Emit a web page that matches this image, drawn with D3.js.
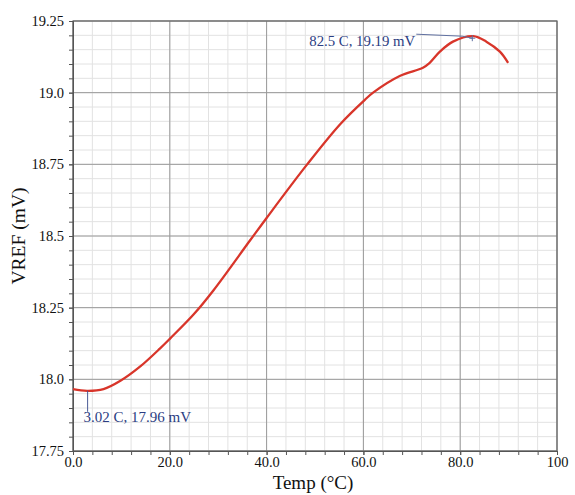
<!DOCTYPE html>
<html>
<head>
<meta charset="utf-8">
<script src="https://cdn.jsdelivr.net/npm/d3@7"></script>
<style>
  body { margin: 0; background: #fff; }
  text { font-family: "Liberation Serif", "DejaVu Serif", serif; }
</style>
</head>
<body>
<div id="chart"></div>
<script>
// curve
const temps = [0, 2.9, 6.3, 9.8, 13.9, 18.0, 20.1, 24.9, 29.0, 36.6, 40.0, 48.3, 55.2, 60.3, 62.0, 67.5, 72.3, 73.7, 75.8, 78.5, 82.7, 85.4, 88.2, 89.9]
const vref = [17.966, 17.96, 17.966, 17.995, 18.045, 18.108, 18.143, 18.226, 18.310, 18.485, 18.563, 18.748, 18.890, 18.975, 19.0, 19.058, 19.087, 19.104, 19.143, 19.178, 19.197, 19.178, 19.143, 19.104]

const xTicks = [0, 20, 40, 60, 80, 100]
const xTickLabels = ["0.0", "20.0", "40.0", "60.0", "80.0", "100"]
const yTicks = [17.75, 18.0, 18.25, 18.5, 18.75, 19.0, 19.25]
const yTickLabels = ["17.75", "18.0", "18.25", "18.5", "18.75", "19.0", "19.25"]

// markers: [temp, vref, label]
const markers = [
    [82.5, 19.19, "82.5 C, 19.19 mV"],
    [3.02, 17.96, "3.02 C, 17.96 mV"]
]

const data = temps.map((t, i) => ({ t: t, v: vref[i] }))

var margin = { top: 21, right: 18, bottom: 44, left: 73 },
    width = 575 - margin.left - margin.right,
    height = 495 - margin.top - margin.bottom;

var svg = d3.select("#chart")
    .append("svg")
    .attr("width", 575)
    .attr("height", 495)
    .append("g")
    .attr("transform", "translate(" + margin.left + "," + margin.top + ")");

var x = d3.scaleLinear().domain([0, 100]).range([0, width]);
var y = d3.scaleLinear().domain([17.75, 19.25]).range([height, 0]);

const xMinor = d3.range(0, 100.01, 4)
const yMinor = d3.range(0, 30.5).map(i => 17.75 + i * 0.05)

// minor grid
svg.append("g").selectAll("line")
    .data(xMinor)
    .enter().append("line")
    .attr("x1", d => x(d)).attr("x2", d => x(d))
    .attr("y1", 0).attr("y2", height)
    .attr("stroke", "#e2e2e2");
svg.append("g").selectAll("line")
    .data(yMinor)
    .enter().append("line")
    .attr("y1", d => y(d)).attr("y2", d => y(d))
    .attr("x1", 0).attr("x2", width)
    .attr("stroke", "#e2e2e2");

// major grid
svg.append("g").selectAll("line")
    .data(xTicks)
    .enter().append("line")
    .attr("x1", d => x(d)).attr("x2", d => x(d))
    .attr("y1", 0).attr("y2", height)
    .attr("stroke", "#9a9a9a");
svg.append("g").selectAll("line")
    .data(yTicks)
    .enter().append("line")
    .attr("y1", d => y(d)).attr("y2", d => y(d))
    .attr("x1", 0).attr("x2", width)
    .attr("stroke", "#9a9a9a");

// frame
svg.append("rect")
    .attr("width", width).attr("height", height)
    .attr("fill", "none")
    .attr("stroke", "#666")
    .attr("stroke-width", 1.2);

// minor ticks
svg.append("g")
    .attr("transform", "translate(0," + height + ")")
    .call(d3.axisBottom(x).tickValues(xMinor).tickSize(4).tickFormat(""))
    .call(g => g.select(".domain").remove())
    .selectAll("line").attr("stroke", "#555");
svg.append("g")
    .call(d3.axisLeft(y).tickValues(yMinor).tickSize(4).tickFormat(""))
    .call(g => g.select(".domain").remove())
    .selectAll("line").attr("stroke", "#555");

// labelled axes
var xAxis = svg.append("g")
    .attr("transform", "translate(0," + height + ")")
    .call(d3.axisBottom(x).tickValues(xTicks).tickSize(4).tickPadding(2)
        .tickFormat((d, i) => xTickLabels[i]));
xAxis.select(".domain").attr("stroke", "#555");
xAxis.selectAll("line").attr("stroke", "#555");
xAxis.selectAll("text")
    .style("font-size", "14.5px")
    .style("font-family", "Liberation Serif")
    .attr("fill", "#111");

var yAxis = svg.append("g")
    .call(d3.axisLeft(y).tickValues(yTicks).tickSize(4).tickPadding(5)
        .tickFormat((d, i) => yTickLabels[i]));
yAxis.select(".domain").attr("stroke", "#555");
yAxis.selectAll("line").attr("stroke", "#555");
yAxis.selectAll("text")
    .style("font-size", "14.5px")
    .style("font-family", "Liberation Serif")
    .attr("fill", "#111");

// axis titles
svg.append("text")
    .attr("x", width / 2 - 2)
    .attr("y", height + 38)
    .attr("text-anchor", "middle")
    .style("font-size", "19px")
    .attr("fill", "#111")
    .text("Temp (°C)");

svg.append("text")
    .attr("transform", "translate(-48," + (height / 2) + ")rotate(-90)")
    .attr("text-anchor", "middle")
    .style("font-size", "19.5px")
    .attr("fill", "#111")
    .text("VREF (mV)");

// curve
var line = d3.line()
    .x(d => x(d.t))
    .y(d => y(d.v))
    .curve(d3.curveCatmullRom.alpha(0.5));

svg.append("path")
    .datum(data)
    .attr("d", line)
    .attr("fill", "none")
    .attr("stroke", "#d8352a")
    .attr("stroke-width", 2.3);

// marker annotations
const hi = markers[0], lo = markers[1]
svg.append("path")
    .attr("d", "M" + (x(hi[0]) - 56) + "," + (y(hi[1]) - 4) + "L" + (x(hi[0]) - 10) + "," + (y(hi[1]) - 2) + "L" + x(hi[0]) + "," + y(hi[1]))
    .attr("fill", "none")
    .attr("stroke", "#6070a0")
    .attr("stroke-width", 1);
svg.append("path")
    .attr("d", "M" + (x(hi[0]) - 3) + "," + y(hi[1]) + "h6M" + x(hi[0]) + "," + (y(hi[1]) - 3) + "v6")
    .attr("stroke", "#6070a0")
    .attr("stroke-width", 1);
svg.append("text")
    .attr("x", x(hi[0]) - 57)
    .attr("y", y(hi[1]) + 8)
    .attr("text-anchor", "end")
    .style("font-size", "14.8px")
    .attr("fill", "#2b3d82")
    .text(hi[2]);

svg.append("line")
    .attr("x1", x(lo[0])).attr("x2", x(lo[0]))
    .attr("y1", y(lo[1])).attr("y2", y(lo[1]) + 21)
    .attr("stroke", "#4a5a96")
    .attr("stroke-width", 1);
svg.append("text")
    .attr("x", x(lo[0]) - 4)
    .attr("y", y(lo[1]) + 31)
    .style("font-size", "15px")
    .attr("fill", "#2b3d82")
    .text(lo[2]);
</script>
</body>
</html>
